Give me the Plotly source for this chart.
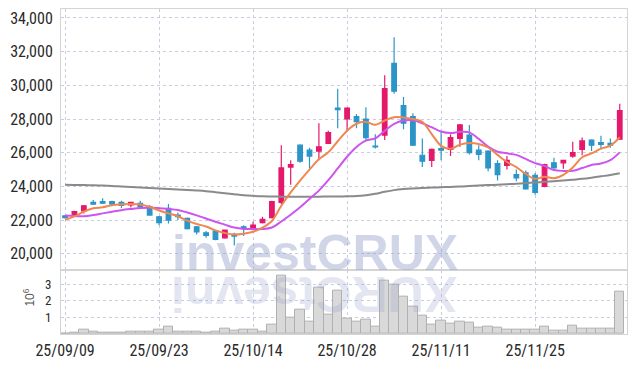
import plotly.graph_objects as go
from plotly.subplots import make_subplots

dates = [
    "25/09/09", "25/09/10", "25/09/11", "25/09/12", "25/09/15", "25/09/16", "25/09/17", "25/09/18", "25/09/19", "25/09/22",
    "25/09/23", "25/09/24", "25/09/25", "25/09/26", "25/09/29", "25/09/30", "25/10/01", "25/10/02", "25/10/10", "25/10/13",
    "25/10/14", "25/10/15", "25/10/16", "25/10/17", "25/10/20", "25/10/21", "25/10/22", "25/10/23", "25/10/24", "25/10/27",
    "25/10/28", "25/10/29", "25/10/30", "25/10/31", "25/11/03", "25/11/04", "25/11/05", "25/11/06", "25/11/07", "25/11/10",
    "25/11/11", "25/11/12", "25/11/13", "25/11/14", "25/11/17", "25/11/18", "25/11/19", "25/11/20", "25/11/21", "25/11/24",
    "25/11/25", "25/11/26", "25/11/27", "25/11/28", "25/12/01", "25/12/02", "25/12/03", "25/12/04", "25/12/05", "25/12/08",
]

open_ = [22250, 22250, 22550, 23050, 23100, 23100, 23050, 22900, 23000, 22800,
         22200, 22700, 22300, 22100, 21600, 21250, 21350, 20950, 21150, 21600,
         21450, 21850, 22150, 23050, 25150, 26450, 26150, 26100, 26550, 28650,
         28000, 28150, 28000, 26400, 27050, 31300, 28800, 28150, 25850, 25550,
         26250, 26200, 26850, 27050, 26150, 26100, 25350, 25250, 24700, 24800,
         24650, 24000, 25400, 25400, 25800, 26200, 26750, 26600, 26550, 26800]
high = [22300, 22550, 22900, 23200, 23300, 23150, 23150, 23080, 23150, 22900,
        22250, 22950, 22450, 22150, 21650, 21350, 21400, 21450, 21250, 21700,
        21900, 22200, 23150, 26450, 25550, 26500, 26300, 27750, 27300, 29800,
        28700, 28300, 28700, 27100, 30600, 32850, 29300, 28350, 26850, 26250,
        27250, 27100, 27700, 27650, 26450, 26150, 25550, 25800, 25000, 24950,
        24800, 25350, 25700, 25550, 26650, 26900, 26800, 27000, 26850, 28900]
low = [22100, 22200, 22400, 22900, 22950, 22900, 22700, 22750, 22700, 22280,
       21700, 21800, 22000, 21450, 21150, 20950, 20800, 20900, 20500, 21050,
       21400, 21800, 22100, 22950, 24100, 25400, 25050, 25550, 26550, 27450,
       27350, 27450, 26700, 26250, 26750, 29500, 27400, 26400, 25150, 25150,
       25550, 25800, 26350, 25900, 25550, 24900, 24350, 25000, 24300, 23800,
       23500, 23950, 25050, 25050, 25700, 25850, 26100, 26200, 26300, 26750]
close = [22150, 22500, 22850, 22950, 23000, 22950, 22870, 23050, 22800, 22300,
         21850, 22000, 22200, 21500, 21300, 21100, 20850, 21400, 21050, 21550,
         21700, 22050, 23100, 25100, 25300, 25500, 25800, 26350, 27200, 28550,
         28650, 27850, 26900, 26350, 29800, 29650, 27750, 26450, 25500, 26200,
         26150, 26900, 27650, 26000, 25900, 25100, 24700, 25550, 24500, 23850,
         23650, 25300, 25100, 25550, 26000, 26700, 26450, 26500, 26450, 28500]

ma5 = [22020, 22220, 22500, 22700, 22760, 22880, 22930, 22960, 22930, 22790,
       22570, 22400, 22230, 21970, 21770, 21620, 21390, 21230, 21140, 21190,
       21310, 21550, 21950, 22850, 23650, 24350, 25000, 25610, 26030, 26680,
       27310, 27720, 27830, 27660, 27910, 28110, 28090, 28000, 27830, 27110,
       26410, 26240, 26480, 26580, 26520, 26310, 25870, 25450, 25150, 24740,
       24450, 24570, 24480, 24690, 25120, 25730, 25960, 26240, 26420, 26920]
ma10 = [22270, 22240, 22230, 22300, 22400, 22500, 22590, 22660, 22720, 22740,
        22710, 22660, 22600, 22450, 22280, 22100, 21900, 21730, 21560, 21480,
        21470, 21470, 21560, 21920, 22320, 22760, 23260, 23750, 24370, 25070,
        25760, 26340, 26720, 26850, 27300, 27710, 27910, 27920, 27750, 27510,
        27260, 27170, 27240, 27210, 26820, 26360, 26060, 25970, 25870, 25630,
        25380, 25220, 24970, 24920, 24930, 25090, 25270, 25360, 25560, 26020]
ma_long = [24100, 24090, 24080, 24070, 24050, 24030, 24000, 23970, 23940, 23910,
           23880, 23850, 23820, 23790, 23760, 23720, 23660, 23600, 23540, 23480,
           23440, 23410, 23400, 23390, 23390, 23390, 23390, 23390, 23400, 23400,
           23410, 23430, 23480, 23560, 23680, 23780, 23840, 23880, 23910, 23930,
           23950, 23970, 23990, 24020, 24050, 24080, 24100, 24130, 24160, 24200,
           24230, 24270, 24310, 24350, 24400, 24450, 24520, 24600, 24680, 24780]

volume = [40000, 100000, 260000, 160000, 100000, 100000, 70000, 160000, 160000, 160000,
          260000, 440000, 160000, 150000, 150000, 100000, 160000, 300000, 200000, 270000,
          240000, 160000, 560000, 3500000, 980000, 1460000, 750000, 2800000, 1160000, 2600000,
          920000, 740000, 870000, 440000, 3200000, 2960000, 2240000, 1640000, 1100000, 560000,
          800000, 640000, 740000, 680000, 380000, 440000, 380000, 260000, 260000, 260000,
          260000, 440000, 200000, 200000, 500000, 300000, 300000, 300000, 300000, 2540000]

price_ticks = [20000, 22000, 24000, 26000, 28000, 30000, 32000, 34000]
vol_ticks = [1000000, 2000000, 3000000]
vol_tick_text = ["1", "2", "3"]
x_ticks = dates[::10]

UP = "#e5196b"
DOWN = "#2b95c8"
FAMILY = "Liberation Sans Narrow, Roboto Condensed, DejaVu Sans Condensed, Roboto, sans-serif"
TICKFONT = dict(family=FAMILY, size=16, color="#2a2a2a")
VOLFONT = dict(family=FAMILY, size=13, color="#2a2a2a")
GRID = "#c8cde0"
LINE = "#d4d4d4"

fig = make_subplots(rows=2, cols=1, shared_xaxes=True, vertical_spacing=0,
                    row_heights=[0.802, 0.198])

fig.add_trace(go.Scatter(x=dates, y=ma_long, mode="lines", line=dict(color="#8a8a8a", width=2, shape="spline"),
                         hoverinfo="skip"), row=1, col=1)
fig.add_trace(go.Candlestick(x=dates, open=open_, high=high, low=low, close=close,
                             increasing=dict(line=dict(color=UP, width=1.2), fillcolor=UP),
                             decreasing=dict(line=dict(color=DOWN, width=1.2), fillcolor=DOWN),
                             whiskerwidth=0), row=1, col=1)
fig.add_trace(go.Scatter(x=dates, y=ma10, mode="lines", line=dict(color="#cc55ee", width=2, shape="spline"),
                         hoverinfo="skip"), row=1, col=1)
fig.add_trace(go.Scatter(x=dates, y=ma5, mode="lines", line=dict(color="#ef8850", width=2, shape="spline"),
                         hoverinfo="skip"), row=1, col=1)
fig.add_trace(go.Bar(x=dates, y=volume, marker=dict(color="#d9d9d9", line=dict(color="#b0b0b0", width=1))),
              row=2, col=1)

xcommon = dict(type="category", range=[-0.43, 59.77], showgrid=True, gridcolor=GRID, griddash="dot",
               gridwidth=1, tickvals=x_ticks, ticktext=x_ticks, showline=True, mirror=True,
               linecolor=LINE, linewidth=1, zeroline=False, ticks="", rangeslider=dict(visible=False))
fig.update_xaxes(**xcommon)
fig.update_xaxes(showticklabels=False, row=1, col=1)
fig.update_xaxes(showticklabels=True, tickfont=TICKFONT, ticklabelstandoff=2, row=2, col=1)

fig.update_yaxes(range=[19060, 34530], tickvals=price_ticks, tickformat=",d", tickfont=TICKFONT,
                 showgrid=True, gridcolor=GRID, griddash="dot", showline=True, mirror=True,
                 linecolor=LINE, zeroline=False, ticks="", ticklabelstandoff=4, row=1, col=1)
fig.update_yaxes(range=[0, 3880000], tickvals=vol_ticks, ticktext=vol_tick_text, tickfont=VOLFONT,
                 showgrid=True, gridcolor=GRID, griddash="dot", showline=True, mirror=True,
                 linecolor=LINE, zeroline=False, ticks="", ticklabelstandoff=6, row=2, col=1)

fig.add_annotation(text="10<sup>6</sup>", xref="paper", yref="paper", x=-0.056, y=0.113,
                   xanchor="center", yanchor="middle", borderpad=0,
                   textangle=-90, showarrow=False, font=dict(family="Liberation Sans, Arial", size=12, color="#555555"))
fig.add_annotation(text="investCRUX", xref="paper", yref="paper", x=0.448, y=0.198, yanchor="bottom",
                   yshift=-13, showarrow=False,
                   font=dict(family="Liberation Sans, Arial", size=50, color="rgba(150,162,205,0.45)", weight="bold"))
fig.add_annotation(text="XURCtsevni", xref="paper", yref="paper", x=0.448, y=0.198, yanchor="top",
                   yshift=5, textangle=180, showarrow=False,
                   font=dict(family="Liberation Sans, Arial", size=50, color="rgba(150,162,205,0.27)", weight="bold"))

fig.update_layout(width=634, height=366, margin=dict(l=61, r=6, t=9, b=29),
                  paper_bgcolor="white", plot_bgcolor="white", showlegend=False,
                  bargap=0, hovermode=False)

fig.write_html("out.html", config={"displayModeBar": False},
               post_script="document.body.style.margin='0';document.body.style.padding='0';")
